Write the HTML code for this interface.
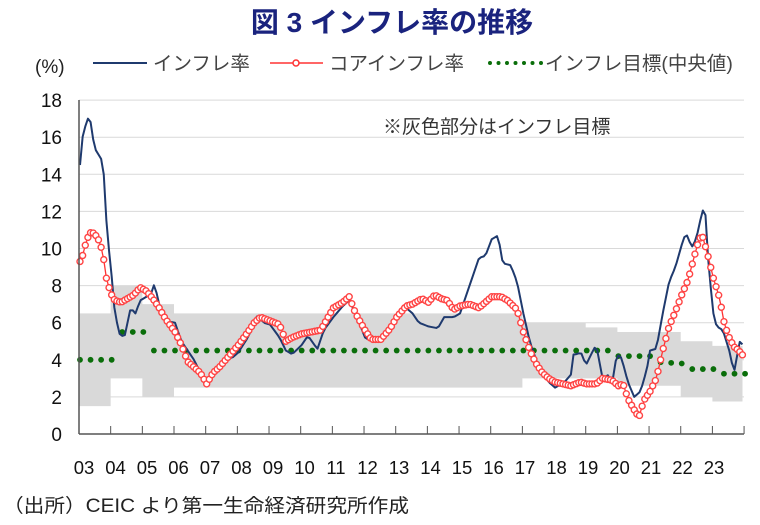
<!DOCTYPE html>
<html><head><meta charset="utf-8"><style>
body{margin:0;background:#fff;width:760px;height:525px;overflow:hidden}
svg{display:block;font-family:"Liberation Sans","Noto Sans CJK JP",sans-serif}
</style></head><body>
<svg id="s" width="760" height="525" viewBox="0 0 760 525">
<text x="392" y="32" text-anchor="middle" font-size="28" font-weight="bold" fill="#1a237e">図 3  インフレ率の推移</text>
<text x="35" y="73" font-size="19" fill="#222">(%)</text>
<line x1="93" y1="63" x2="147" y2="63" stroke="#1f3a6e" stroke-width="2"/>
<text x="153" y="70" font-size="19.5" fill="#444">インフレ率</text>
<line x1="270" y1="63" x2="323" y2="63" stroke="#f33" stroke-width="1.5"/>
<circle cx="296" cy="63" r="3" fill="#fff" stroke="#f33" stroke-width="1.5"/>
<text x="329" y="70" font-size="19.5" fill="#444">コアインフレ率</text>
<line x1="490" y1="63" x2="542" y2="63" stroke="#0a6e0a" stroke-width="4" stroke-dasharray="0 8.5" stroke-linecap="round"/>
<text x="545" y="70" font-size="19.5" fill="#444">インフレ目標(中央値)</text>
<text x="383" y="133" font-size="19" fill="#333">※灰色部分はインフレ目標</text>
<g id="g"></g>
<text x="3" y="512" font-size="19" fill="#222" textLength="406" lengthAdjust="spacingAndGlyphs">（出所）CEIC より第一生命経済研究所作成</text>
</svg>
<script>
const g=document.getElementById('g');const NS='http://www.w3.org/2000/svg';
const X=t=>79+(t-2003)*31.67, Y=v=>434-v*18.55;
function el(n,a){const e=document.createElementNS(NS,n);for(const k in a)e.setAttribute(k,a[k]);g.appendChild(e);return e;}
let h='';
for(let v=0;v<=18;v+=2){if(v>0)h+=`<line x1="79" x2="744" y1="${Y(v)}" y2="${Y(v)}" stroke="#d9d9d9" stroke-width="1"/>`;
h+=`<text x="62" y="${Y(v)+7}" text-anchor="end" font-size="19" fill="#111">${v}</text>`;}
const band=[[2003,1.5,6.5],[2004,3,8],[2005,2,7],[2006,2.5,6.5],[2017,3,6],[2019,3,5.75],[2020,2.6,5.5],[2022,2,5],[2023,1.75,4.75],[2023.95,1.75,4.75]];
let up='',lo='';
for(let i=0;i<band.length-1;i++){const [t,l,u]=band[i],t2=band[i+1][0];up+=`${X(t)},${Y(u)} ${X(t2)},${Y(u)} `;lo=`${X(t2)},${Y(l)} ${X(t)},${Y(l)} `+lo;}
h+=`<polygon points="${up}${lo}" fill="#d9d9d9"/>`;
g.innerHTML=h;
function interp(k,n,step){const out=[];for(let m=0;m<n;m++){const t=2003+m*step;let i=0;while(i<k.length-2&&k[i+1][0]<t)i++;const[a,b]=[k[i],k[i+1]];let f=(t-a[0])/(b[0]-a[0]);f=Math.max(0,Math.min(1,f));out.push([X(t)+1,Y(a[1]+(b[1]-a[1])*f)]);}return out;}
const tg=[[2003,4],[2004.0,4],[2004.1,5.5],[2005,5.5],[2005.05,4.5],[2019.9,4.5],[2020,4.2],[2021,4.2],[2021.05,3.9],[2022,3.8],[2022.05,3.5],[2023,3.5],[2023.05,3.25],[2024,3.25]];
const tp=interp(tg,64,1/3);
tp.forEach(p=>el('circle',{cx:p[0],cy:p[1],r:2.9,fill:'#0a6e0a'}));
const hd=[[2003,14.5],[2003.08,16],[2003.2,16.8],[2003.3,17.2],[2003.45,15.5],[2003.55,15.1],[2003.65,15],[2003.75,14],[2003.85,11],[2004,8.5],[2004.1,6.5],[2004.25,5.4],[2004.4,5.2],[2004.5,6],[2004.6,6.8],[2004.75,6.5],[2004.9,7.2],[2005.1,7.4],[2005.25,7.6],[2005.35,8.1],[2005.5,7],[2005.7,6.1],[2006,6],[2006.2,5],[2006.4,4.5],[2006.6,4],[2006.8,3.3],[2007,2.9],[2007.2,3.2],[2007.4,3.6],[2007.6,4.1],[2007.8,4.1],[2008,4.4],[2008.3,5.2],[2008.6,6.4],[2008.8,6],[2009,5.9],[2009.3,5.2],[2009.5,4.5],[2009.7,4.3],[2010,4.8],[2010.2,5.3],[2010.4,4.8],[2010.5,4.6],[2010.7,5.6],[2011,6.3],[2011.3,6.9],[2011.5,7.2],[2011.7,6.5],[2012,5.2],[2012.2,5],[2012.5,5.2],[2012.8,5.8],[2013,6.2],[2013.3,6.8],[2013.5,6.5],[2013.7,6],[2014,5.8],[2014.3,5.7],[2014.5,6.3],[2014.8,6.3],[2015,6.5],[2015.3,8],[2015.6,9.5],[2015.8,9.6],[2016,10.5],[2016.2,10.7],[2016.35,9.2],[2016.6,9.1],[2016.8,8.2],[2017,6.5],[2017.2,5],[2017.5,3.5],[2017.8,2.8],[2018,2.5],[2018.3,2.8],[2018.5,3.2],[2018.6,4.5],[2018.7,4.2],[2018.8,4.5],[2018.9,4],[2019,3.8],[2019.2,4.5],[2019.3,4.8],[2019.5,3],[2019.7,3.2],[2019.8,2.7],[2019.95,4.3],[2020.1,4.1],[2020.3,2.8],[2020.5,2],[2020.7,2.3],[2020.9,3.5],[2021,4.5],[2021.2,4.6],[2021.4,6.5],[2021.6,8.2],[2021.8,9],[2022,10.2],[2022.1,10.7],[2022.2,10.7],[2022.3,10],[2022.45,10.5],[2022.55,11.2],[2022.65,12.1],[2022.75,11.8],[2022.85,9],[2023,6.5],[2023.1,5.8],[2023.3,5.6],[2023.5,4.5],[2023.65,3.3],[2023.8,4.7],[2023.85,5.1],[2023.95,4.7],[2024,4.6]];
const cr=[[2003,9.3],[2003.08,9.6],[2003.17,10.2],[2003.25,10.6],[2003.35,10.9],[2003.45,10.8],[2003.55,10.6],[2003.65,10.2],[2003.75,9.4],[2003.85,8.2],[2004,7.5],[2004.1,7.2],[2004.3,7.1],[2004.5,7.3],[2004.7,7.5],[2004.9,7.9],[2005.1,7.7],[2005.3,7.3],[2005.5,6.8],[2005.7,6.2],[2006,5.5],[2006.2,4.8],[2006.4,3.9],[2006.6,3.6],[2006.8,3.3],[2007,2.7],[2007.2,3.3],[2007.4,3.6],[2007.6,4],[2007.8,4.4],[2008,4.8],[2008.3,5.5],[2008.5,6],[2008.7,6.3],[2009,6.1],[2009.3,5.9],[2009.5,5],[2009.7,5.2],[2010,5.4],[2010.3,5.5],[2010.6,5.6],[2010.8,6.2],[2011,6.8],[2011.3,7.1],[2011.5,7.4],[2011.7,6.5],[2012,5.6],[2012.2,5.1],[2012.5,5.1],[2012.8,5.7],[2013,6.3],[2013.3,6.9],[2013.5,7],[2013.8,7.3],[2014,7.1],[2014.2,7.5],[2014.4,7.3],[2014.6,7.2],[2014.8,6.7],[2015,6.9],[2015.3,7],[2015.6,6.8],[2015.8,7.1],[2016,7.4],[2016.3,7.4],[2016.5,7.2],[2016.8,6.7],[2017,5.5],[2017.2,4.5],[2017.4,3.8],[2017.6,3.3],[2017.8,3],[2018,2.8],[2018.5,2.6],[2018.8,2.8],[2019,2.7],[2019.3,2.7],[2019.5,3],[2019.8,2.9],[2020,2.6],[2020.15,2.7],[2020.3,1.9],[2020.5,1.3],[2020.65,0.9],[2020.8,1.8],[2021,2.3],[2021.2,3],[2021.4,4.5],[2021.6,5.8],[2021.8,6.6],[2022,7.5],[2022.2,8.3],[2022.4,9.6],[2022.55,10.5],[2022.65,10.7],[2022.8,9.8],[2023,8.4],[2023.2,7.3],[2023.35,5.9],[2023.5,5.2],[2023.65,4.7],[2023.8,4.5],[2023.95,4.2],[2024,4.1]];
const hp=interp(hd,252,1/12),cp=interp(cr,252,1/12);
el('polyline',{points:hp.map(p=>p.join(',')).join(' '),fill:'none',stroke:'#1f3a6e','stroke-width':2,'stroke-linejoin':'round'});
el('polyline',{points:cp.map(p=>p.join(',')).join(' '),fill:'none',stroke:'#f33','stroke-width':1.3});
cp.forEach(p=>el('circle',{cx:p[0],cy:p[1],r:3,fill:'#fff',stroke:'#f44','stroke-width':1.4}));
el('line',{x1:79,y1:100,x2:79,y2:434,stroke:'#555','stroke-width':1.5});
el('line',{x1:79,y1:434,x2:744,y2:434,stroke:'#555','stroke-width':1.5});
for(let i=1;i<=21;i++)el('line',{x1:X(2003+i),y1:426,x2:X(2003+i),y2:434,stroke:'#555','stroke-width':1});
for(let i=0;i<21;i++){const t=el('text',{x:84+i*31.5,y:474,'text-anchor':'middle','font-size':18.5,fill:'#111'});t.textContent=String((3+i)).padStart(2,'0');}
</script>
</body></html>
